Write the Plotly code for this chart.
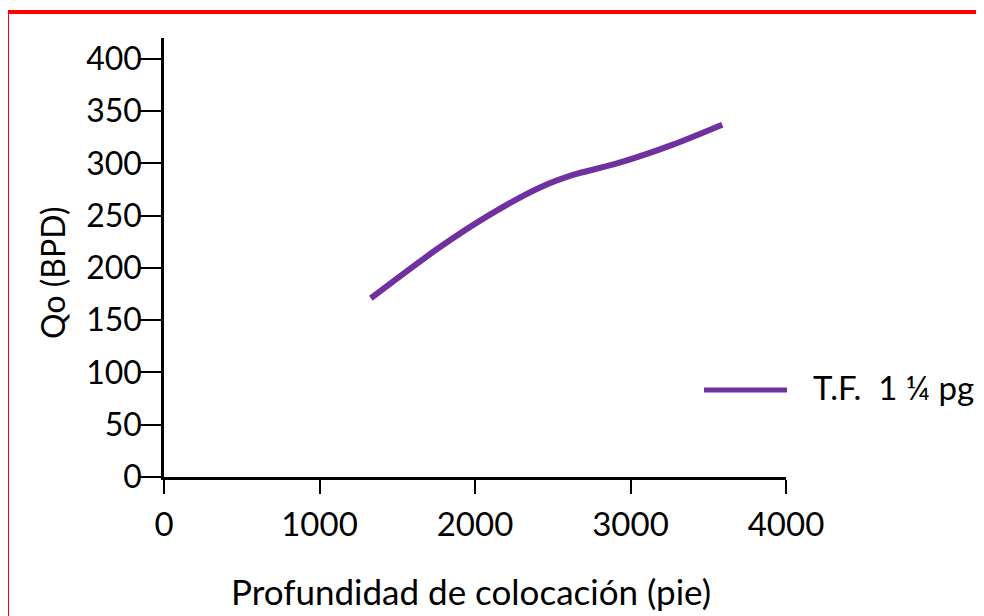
import plotly.graph_objects as go

# Data
depth_ft = [1330, 1775, 2096, 2418, 2630, 2913, 3273, 3590]
qo_bpd = [171, 220, 251, 277, 289, 300, 318, 337]
series_name = "T.F.  1 \u00bc pg"
x_ticks = [0, 1000, 2000, 3000, 4000]
y_ticks = [0, 50, 100, 150, 200, 250, 300, 350, 400]

FONT = "Lato"
PURPLE = "#7030A0"

fig = go.Figure()
fig.add_trace(go.Scatter(
    x=depth_ft, y=qo_bpd, mode="lines", name=series_name,
    line=dict(color=PURPLE, width=6, shape="spline", smoothing=0.8),
    showlegend=False,
))

# The page body adds an 8px margin, so work in screen coords minus 8
OFF = 8
W, H = 984 - OFF, 616 - OFF
L, R, T, B = 164 - OFF, 786 - OFF, 38 - OFF, 477 - OFF
pw, ph = R - L, B - T

def px(xs):
    return (xs - OFF - L) / pw

def py(ys):
    return (B - (ys - OFF)) / ph

fig.update_layout(
    width=W, height=H,
    margin=dict(l=L, r=W - R, t=T, b=H - B, pad=0),
    paper_bgcolor="white", plot_bgcolor="white",
    font=dict(family=FONT, size=32, color="black"),
    xaxis=dict(
        range=[0, 4000], tickvals=x_ticks, ticktext=[str(v) for v in x_ticks],
        showline=True, linecolor="black", linewidth=2.5,
        ticks="outside", ticklen=14, tickwidth=2, tickcolor="black",
        ticklabelstandoff=3, showgrid=False, zeroline=False,
        tickfont=dict(family=FONT, size=33),
    ),
    yaxis=dict(
        range=[0, 420], tickvals=y_ticks, ticktext=[str(v) for v in y_ticks],
        showline=True, linecolor="black", linewidth=2.5,
        ticks="outside", ticklen=21, tickwidth=2, tickcolor="black",
        ticklabelstandoff=-8, showgrid=False, zeroline=False,
        tickfont=dict(family=FONT, size=32),
    ),
    showlegend=False,
)

# Axis titles
fig.add_annotation(text="Profundidad de colocación (pie)", xref="paper", yref="paper",
                   x=px(471), y=py(591), showarrow=False, xanchor="center", yanchor="middle",
                   font=dict(family=FONT, size=35, color="black"))
fig.add_annotation(text="Qo (BPD)", xref="paper", yref="paper",
                   x=px(52), y=py(273), showarrow=False, xanchor="center", yanchor="middle",
                   textangle=-90, font=dict(family=FONT, size=32, color="black"))

# Legend (drawn manually)
fig.add_shape(type="line", xref="paper", yref="paper",
              x0=px(704), x1=px(787), y0=py(390), y1=py(390),
              line=dict(color=PURPLE, width=5))
fig.add_annotation(text=series_name, xref="paper", yref="paper",
                   x=px(811), y=py(387), showarrow=False, xanchor="left", yanchor="middle",
                   font=dict(family=FONT, size=33, color="black"))

# Red frame (left and top)
fig.add_shape(type="line", xref="paper", yref="paper",
              x0=px(7), x1=px(7), y0=py(10), y1=py(630),
              line=dict(color="#FF0000", width=4))
fig.add_shape(type="line", xref="paper", yref="paper",
              x0=px(5), x1=px(1000), y0=py(12), y1=py(12),
              line=dict(color="#FF0000", width=4))

fig.write_html("out.html")
